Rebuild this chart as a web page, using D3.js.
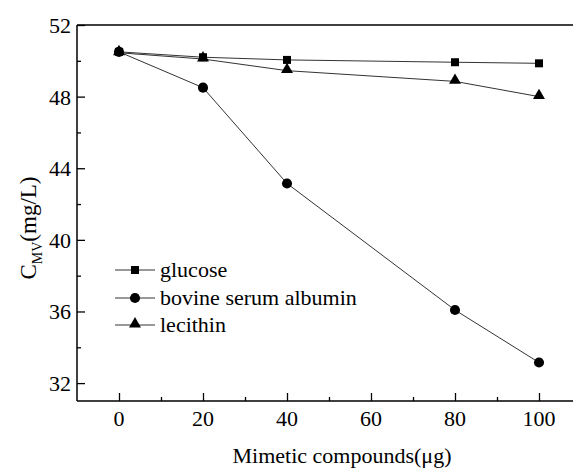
<!DOCTYPE html>
<html>
<head>
<meta charset="utf-8">
<script src="https://cdn.jsdelivr.net/npm/d3@7"></script>
<style>
  body { margin:0; background:#fff; }
  text, tspan { font-family: "Liberation Serif", serif !important; }
</style>
</head>
<body>
<script>
// data
var doses = [0, 20, 40, 80, 100];
var glucose = [50.5, 50.2, 50.05, 49.92, 49.86];
var bsa = [50.5, 48.5, 43.15, 36.08, 33.15];
var lecithin = [50.45, 50.1, 49.45, 48.85, 48.0];
var seriesNames = ["glucose", "bovine serum albumin", "lecithin"];
var seriesShapes = [d3.symbolSquare, d3.symbolCircle, d3.symbolTriangle];
var xTicks = [0, 20, 40, 60, 80, 100];
var yTicks = [32, 36, 40, 44, 48, 52];

var margin = { left:77, top:25, right:-50, bottom:69 }
var W = 573, H = 470;
var width = W - margin.left - margin.right,
    height = H - margin.top - margin.bottom;

var svg = d3.select("body").append("svg")
    .attr("width", W)
    .attr("height", H)
    .style("font-family", '"Liberation Serif"')

var chart = svg.append("g")
    .attr("transform", "translate(" + margin.left + "," + margin.top + ")")

var x = d3.scaleLinear().domain([-10, 120]).range([0, width])
var y = d3.scaleLinear().domain([31, 52]).range([height, 0])

// axes box (right side falls outside the picture)
chart.append("line").attr("x1", 0).attr("x2", width).attr("y1", 0).attr("y2", 0)
    .attr("stroke", "#000").attr("stroke-width", 1.5)
chart.append("line").attr("x1", 0).attr("x2", width).attr("y1", height).attr("y2", height)
    .attr("stroke", "#000").attr("stroke-width", 1.5)
chart.append("line").attr("x1", 0).attr("x2", 0).attr("y1", 0).attr("y2", height)
    .attr("stroke", "#000").attr("stroke-width", 1.5)

// inward ticks
var x_axis = d3.axisTop(x).tickValues(xTicks).tickSize(8).tickFormat("")
var x_minor = d3.axisTop(x).tickValues(xTicks.map(function(d){ return d + 10; })).tickSize(4).tickFormat("")
var y_axis = d3.axisRight(y).tickValues(yTicks).tickSize(8).tickFormat("")
var y_minor = d3.axisRight(y).tickValues([34, 38, 42, 46, 50]).tickSize(4).tickFormat("")

;[x_axis, x_minor].forEach(function(a){
    var g = chart.append("g").attr("transform", "translate(0," + height + ")").call(a)
    g.select(".domain").remove()
    g.selectAll("text").remove()
    g.selectAll("line").attr("stroke", "#000").attr("stroke-width", 1.3)
})
;[y_axis, y_minor].forEach(function(a){
    var g = chart.append("g").call(a)
    g.select(".domain").remove()
    g.selectAll("text").remove()
    g.selectAll("line").attr("stroke", "#000").attr("stroke-width", 1.3)
})

// tick labels
chart.selectAll(".xlab").data(xTicks).enter().append("text")
    .attr("x", function(d){ return x(d); })
    .attr("y", height + 25)
    .attr("text-anchor", "middle")
    .attr("font-size", 22)
    .text(function(d){ return d; })

chart.selectAll(".ylab").data(yTicks).enter().append("text")
    .attr("x", -6)
    .attr("y", function(d){ return y(d) + 8; })
    .attr("text-anchor", "end")
    .attr("font-size", 22)
    .text(function(d){ return d; })

// axis titles
svg.append("text")
    .attr("x", 342).attr("y", 463)
    .attr("text-anchor", "middle")
    .attr("font-size", 22)
    .text("Mimetic compounds(\u03bcg)")

var yt = svg.append("text")
    .attr("transform", "translate(36,228) rotate(-90)")
    .attr("text-anchor", "middle")
    .attr("font-size", 23)
yt.append("tspan").text("C")
yt.append("tspan").attr("font-size", 14).attr("dy", 6).text("MV")
yt.append("tspan").attr("dy", -6).text("(mg/L)")

// series
var series = [glucose, bsa, lecithin];
var line = d3.line()
    .x(function(d, i){ return x(doses[i]); })
    .y(function(d){ return y(d); })

var symSizes = [64, 80, 62];

series.forEach(function(s, k){
    chart.append("path")
        .datum(s)
        .attr("fill", "none")
        .attr("stroke", "#333")
        .attr("stroke-width", 1)
        .attr("d", line)
    chart.selectAll(".pt" + k).data(s).enter().append("path")
        .attr("transform", function(d, i){
            var dy = k == 2 ? -1 : 0;
            return "translate(" + x(doses[i]) + "," + (y(d) + dy) + ")";
        })
        .attr("d", d3.symbol().type(seriesShapes[k]).size(symSizes[k]))
        .attr("fill", "#000")
})

// legend
var legend = svg.append("g")
var legY = [270, 298, 325];
seriesNames.forEach(function(name, k){
    legend.append("line")
        .attr("x1", 115).attr("x2", 155)
        .attr("y1", legY[k]).attr("y2", legY[k])
        .attr("stroke", "#333").attr("stroke-width", 1)
    legend.append("path")
        .attr("transform", "translate(135," + (legY[k] + (k == 2 ? -1 : 0)) + ")")
        .attr("d", d3.symbol().type(seriesShapes[k]).size(symSizes[k]))
        .attr("fill", "#000")
    legend.append("text")
        .attr("x", 160).attr("y", legY[k] + 7)
        .attr("font-size", 22)
        .text(name)
})
</script>
</body>
</html>
